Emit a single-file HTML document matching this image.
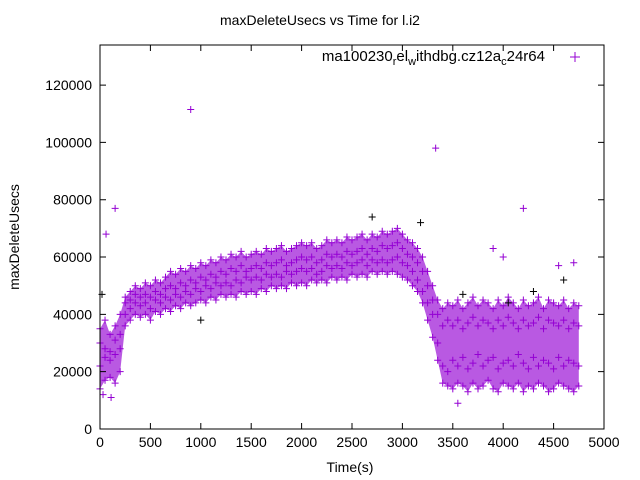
<!DOCTYPE html>
<html><head><meta charset="utf-8"><style>
html,body{margin:0;padding:0;background:#fff;}
svg{display:block;font-family:"Liberation Sans",sans-serif;}
</style></head><body>
<svg id="chart" width="640" height="480" viewBox="0 0 640 480" xmlns="http://www.w3.org/2000/svg">
<rect width="640" height="480" fill="#fff"/>
<text x="320" y="25" text-anchor="middle" font-size="14">maxDeleteUsecs vs Time for l.i2</text>
<text transform="translate(19,237) rotate(-90)" text-anchor="middle" font-size="14">maxDeleteUsecs</text>
<text x="350" y="472" text-anchor="middle" font-size="14">Time(s)</text>
<g id="band"></g>
<g id="points"></g>
<g id="axes"></g>
<g>
<text x="545" y="61" text-anchor="end" font-size="15">ma100230<tspan font-size="11" dy="4">r</tspan><tspan dy="-4">el</tspan><tspan font-size="11" dy="4">w</tspan><tspan dy="-4">ithdbg.cz12a</tspan><tspan font-size="11" dy="4">c</tspan><tspan dy="-4">24r64</tspan></text>
<path d="M570,57h10M575,52v10" stroke="#9400d3" stroke-width="1"/>
</g>
</svg>
<script>
const times=[];for(let i=0;i<96;i++)times.push(i*50);
const valuesHigh=[35000,38000,33000,36000,40000,46000,48000,50000,49000,51000,50000,52000,51000,53000,55000,54000,56000,55000,57000,56000,58000,57000,59000,58000,60000,59000,61000,60000,62000,60000,61000,62000,61000,63000,62000,63000,64000,62000,63000,64000,65000,64000,65000,63000,64000,66000,65000,66000,65000,67000,66000,67000,68000,66000,68000,67000,69000,68000,69000,70000,68000,66000,65000,63000,60000,55000,50000,45000,42000,44000,43000,45000,42000,44000,46000,43000,45000,44000,42000,45000,43000,46000,44000,42000,45000,43000,44000,46000,42000,45000,44000,43000,45000,42000,44000,43000];
const valuesMidHigh=[30000,28000,27000,31000,33000,44000,45000,47000,46000,47000,46000,48000,47000,49000,50000,49000,51000,50000,52000,51000,53000,52000,54000,53000,55000,54000,56000,55000,57000,55000,56000,57000,56000,58000,57000,58000,59000,57000,58000,59000,60000,59000,60000,58000,59000,61000,60000,61000,60000,62000,61000,62000,63000,61000,63000,62000,64000,63000,64000,65000,63000,61000,60000,58000,55000,50000,45000,40000,36000,38000,36000,38000,35000,37000,39000,36000,38000,37000,35000,38000,36000,39000,37000,35000,38000,36000,37000,39000,35000,38000,37000,36000,38000,35000,37000,36000];
const valuesMidLow=[22000,25000,24000,26000,28000,40000,42000,44000,43000,44000,42000,45000,44000,46000,45000,47000,46000,48000,47000,49000,48000,50000,49000,51000,50000,51000,50000,52000,51000,53000,52000,53000,52000,54000,53000,54000,53000,55000,54000,55000,56000,55000,56000,54000,55000,57000,56000,57000,56000,58000,57000,58000,59000,57000,59000,58000,59000,58000,59000,60000,58000,57000,55000,52000,48000,44000,40000,30000,22000,20000,24000,22000,25000,21000,23000,26000,22000,24000,25000,21000,23000,24000,22000,26000,23000,21000,25000,22000,24000,23000,21000,25000,22000,24000,23000,22000];
const valuesLow=[14000,17000,18000,16000,20000,36000,38000,40000,39000,40000,38000,41000,40000,42000,41000,43000,42000,44000,43000,44000,45000,44000,46000,45000,47000,46000,47000,46000,48000,47000,48000,47000,49000,48000,50000,49000,50000,49000,51000,50000,51000,50000,52000,51000,52000,51000,53000,52000,53000,52000,54000,53000,54000,53000,55000,54000,55000,54000,55000,54000,53000,52000,50000,48000,44000,38000,32000,24000,16000,15000,14000,16000,15000,13000,16000,14000,15000,17000,14000,13000,16000,15000,14000,16000,13000,15000,14000,16000,15000,13000,14000,16000,15000,14000,13000,15000];
const outlierTimes=[150,900,3330,4200,60,3900,30,110,4550,4700,3550,4000];
const outlierValues=[77000,111500,98000,77000,68000,63000,12000,11000,57000,58000,9000,60000];
const blackTimes=[20,2700,3180,4050,4300,3600,1000,4600];
const blackValues=[47000,74000,72000,44000,48000,47000,38000,52000];
const xTicks=[0,500,1000,1500,2000,2500,3000,3500,4000,4500,5000];
const yTicks=[0,20000,40000,60000,80000,100000,120000];

const L=100,R=604,T=45,B=429,YMAX=134000,XMAX=5000;
const X=v=>L+(R-L)*v/XMAX, Y=v=>B-(B-T)*v/YMAX;
const NS='http://www.w3.org/2000/svg';
const mk=(tag,attrs,parent)=>{const e=document.createElementNS(NS,tag);for(const k in attrs)e.setAttribute(k,attrs[k]);parent.appendChild(e);return e;};

const band=document.getElementById('band');
let d='M'+times.map((t,i)=>X(t)+','+Y(valuesHigh[i])).join('L');
d+='L'+times.slice().reverse().map((t,j)=>X(t)+','+Y(valuesLow[times.length-1-j])).join('L')+'Z';
const bp=mk('path',{d:d,fill:'#9400d3','fill-opacity':'0.65',stroke:'none'},band);



const pts=document.getElementById('points');
function plus(x,y,col){
  const p=mk('path',{d:`M${x-3.5},${y}h7M${x},${y-3.5}v7`,stroke:col,'stroke-width':'1',fill:'none'},pts);
  
  
}
[valuesHigh,valuesMidHigh,valuesMidLow,valuesLow].forEach(arr=>{
  times.forEach((t,i)=>plus(X(t),Y(arr[i]),'#9400d3'));
});
outlierTimes.forEach((t,i)=>plus(X(t),Y(outlierValues[i]),'#9400d3'));
blackTimes.forEach((t,i)=>plus(X(t),Y(blackValues[i]),'#000'));

const ax=document.getElementById('axes');
const fr=mk('rect',{x:L,y:T,width:R-L,height:B-T,fill:'none',stroke:'#000','stroke-width':'1'},ax);


xTicks.forEach(v=>{
  const x=X(v);
  mk('path',{d:`M${x},${B}v-6M${x},${T}v6`,stroke:'#000'},ax);
  const tx=mk('text',{x:x,y:B+18,'text-anchor':'middle','font-size':'14'},ax);
  tx.textContent=v;
  
  
});
yTicks.forEach(v=>{
  const y=Y(v);
  mk('path',{d:`M${L},${y}h6M${R},${y}h-6`,stroke:'#000'},ax);
  const tx=mk('text',{x:L-8,y:y+5,'text-anchor':'end','font-size':'14'},ax);
  tx.textContent=v;
  
  
});
</script>
</body></html>
